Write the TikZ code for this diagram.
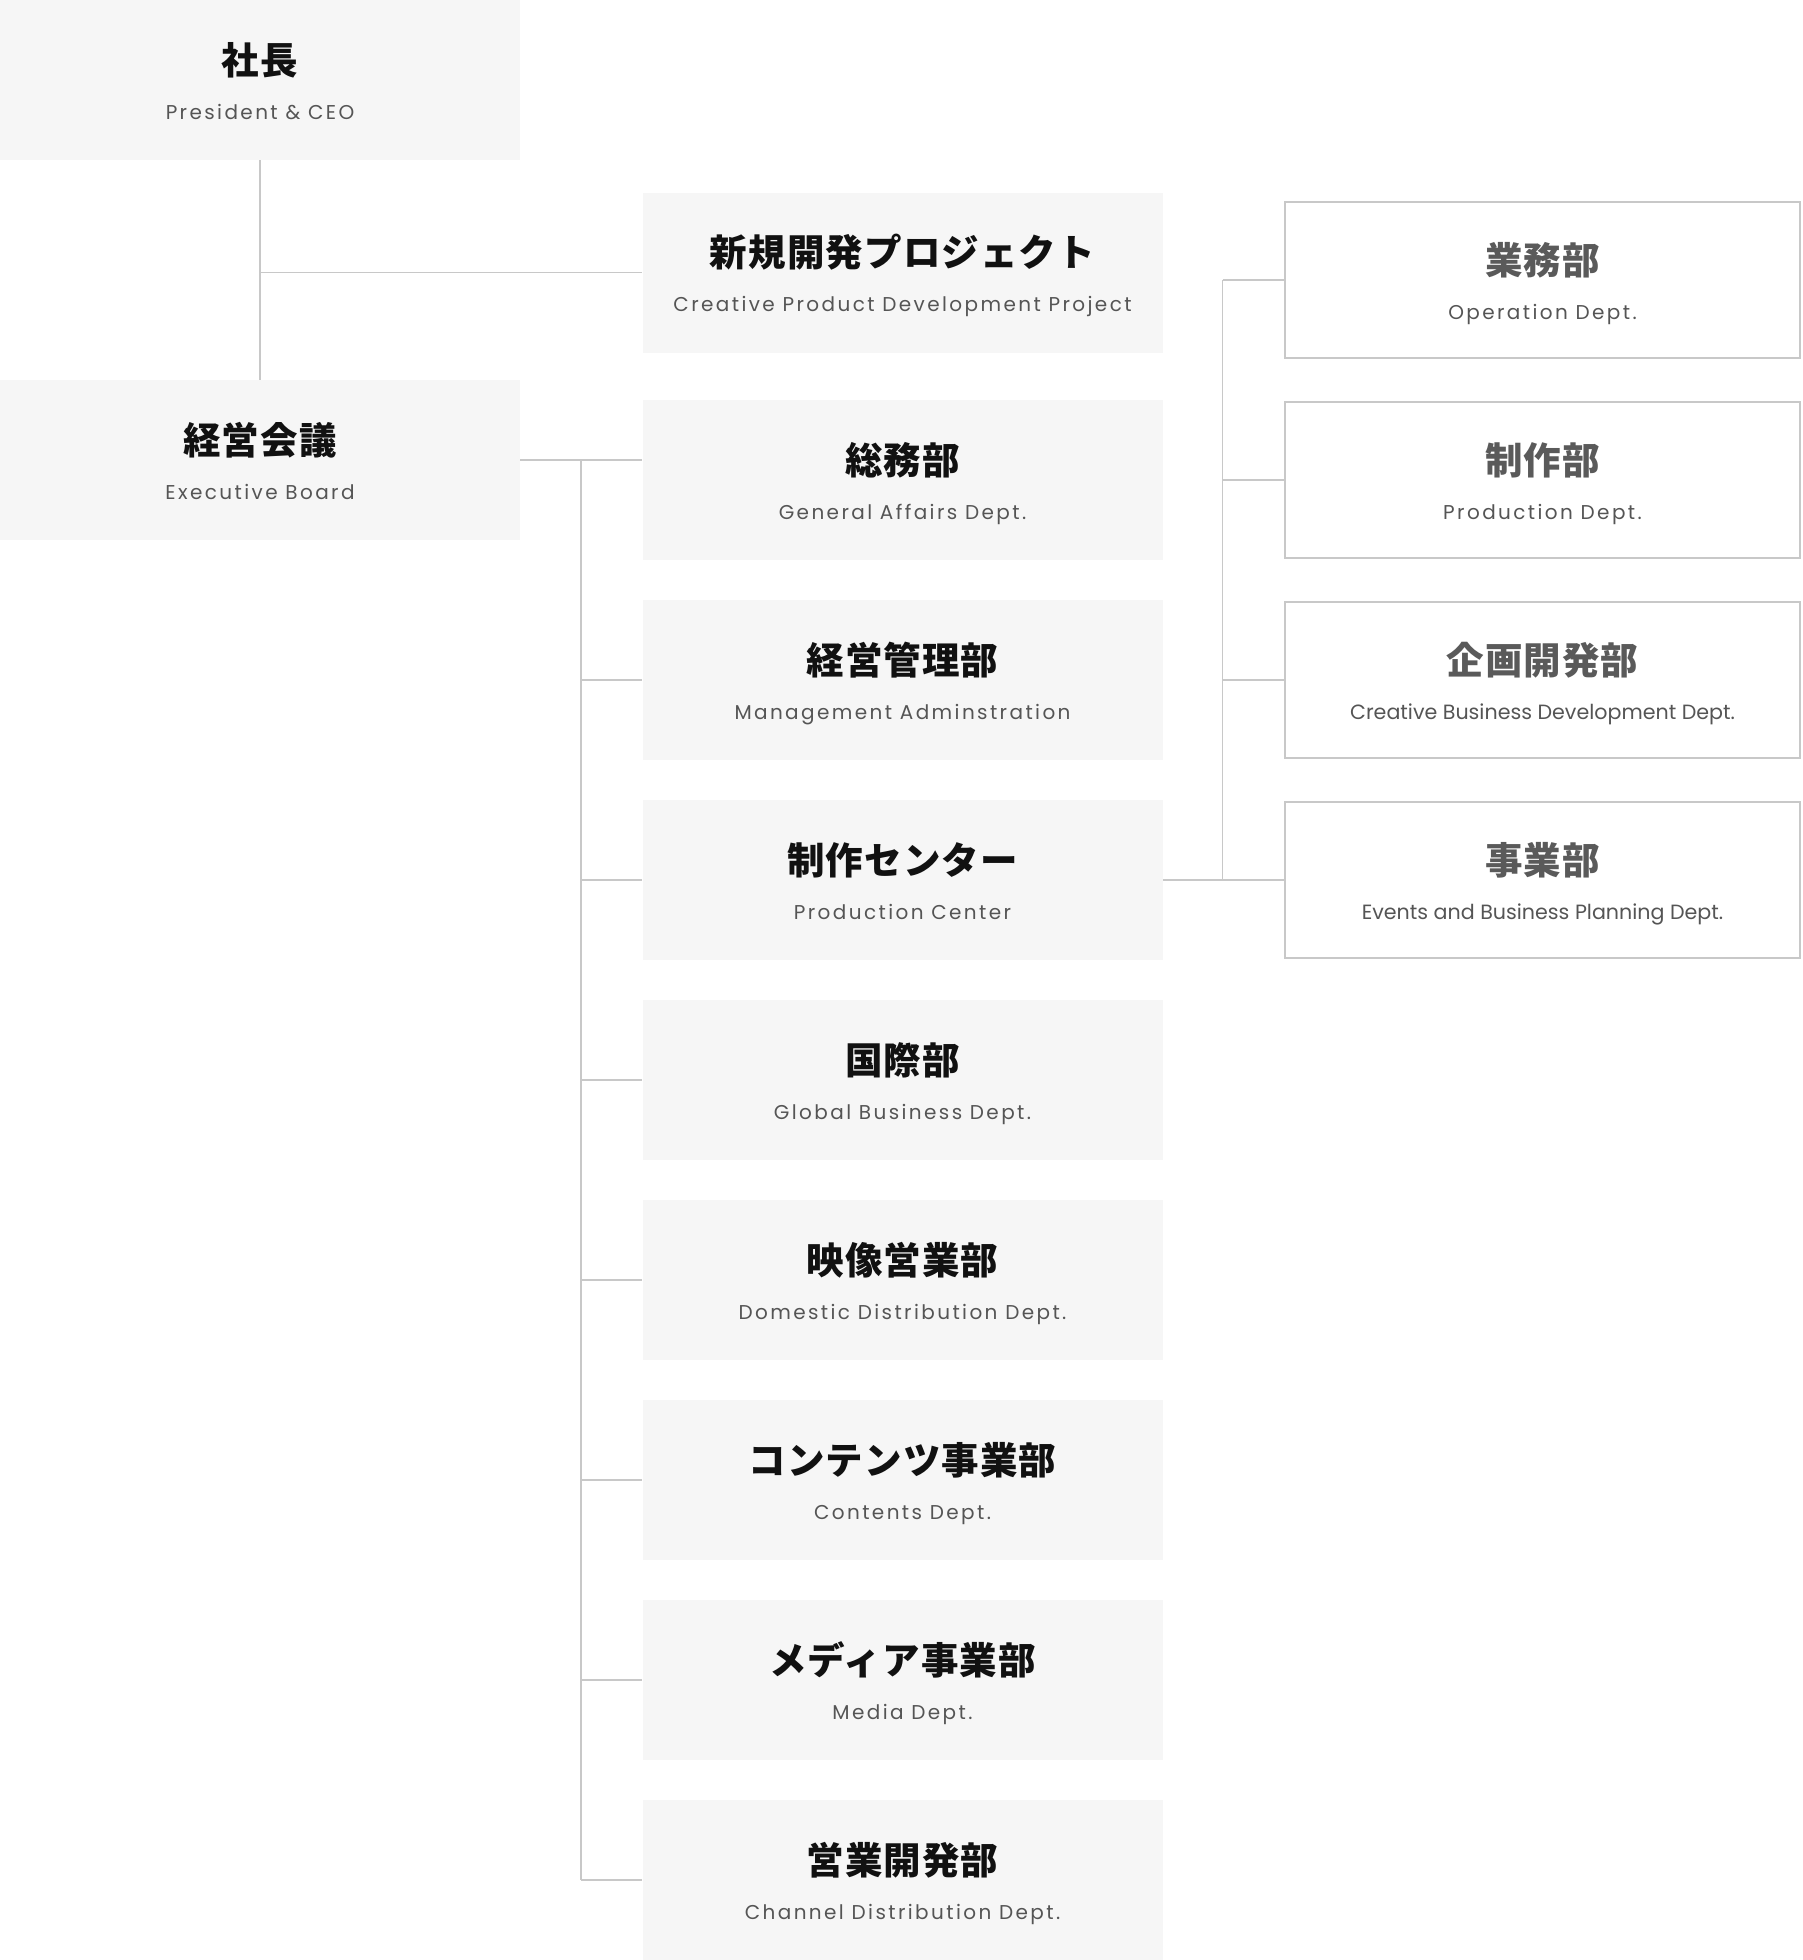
\documentclass[tikz,border=0pt]{standalone}
\usepackage{fontspec}
\setmainfont{Poppins}
\newfontfamily\jpfont{Noto Sans CJK JP}[LetterSpace=3]
\newfontfamily\enfont{Poppins}[LetterSpace=12]
\usepackage{tikz}
\usetikzlibrary{positioning}

\definecolor{boxgray}{HTML}{F6F6F6}
\definecolor{linegray}{HTML}{C8C8C8}
\definecolor{titleblack}{HTML}{111111}
\definecolor{titlegray}{HTML}{5A5A5A}
\definecolor{subgray}{HTML}{555555}

\begin{document}
\begin{tikzpicture}[x=1pt,y=1pt,
  unit/.style={rectangle,fill=boxgray,minimum width=416pt,minimum height=128pt,inner sep=0pt},
  dept/.style={rectangle,fill=white,draw=linegray,line width=1.5pt,minimum width=412pt,minimum height=125pt,inner sep=0pt},
  jptitle/.style={anchor=base,inner sep=0pt,text=titleblack,font=\jpfont\bfseries\fontsize{30}{36}\selectfont},
  entitle/.style={anchor=base,inner sep=0pt,text=subgray,font=\enfont\fontsize{16}{20}\selectfont},
  plaintitle/.style={anchor=base,inner sep=0pt,text=subgray,font=\fontsize{16.5}{20}\selectfont},
  link/.style={draw=linegray,line width=1.5pt}]
\useasboundingbox (0,0) rectangle (1442,-1568);

% top
\node[unit] (ceo) at (208,-64) {};
\node[jptitle] at ([yshift=4.6pt]ceo.center) {社長};
\node[entitle] at ([yshift=-31.5pt]ceo.center) {President \& CEO};
\node[unit] (board) at (208,-368) {};
\node[jptitle] at ([yshift=4.6pt]board.center) {経営会議};
\node[entitle] at ([yshift=-31.5pt]board.center) {Executive Board};
\node[unit] (proj) at (722,-218) {};
\node[jptitle] at ([yshift=4.6pt]proj.center) {新規開発プロジェクト};
\node[entitle] at ([yshift=-31.5pt]proj.center) {Creative Product Development Project};

% middle column
\foreach \n/\y/\jp/\en in %
{gen/384/総務部/General Affairs Dept.,
 mgmt/544/経営管理部/Management Adminstration,
 prodc/704/制作センター/Production Center,
 intl/864/国際部/Global Business Dept.,
 dom/1024/映像営業部/Domestic Distribution Dept.,
 cont/1184/コンテンツ事業部/Contents Dept.,
 media/1344/メディア事業部/Media Dept.,
 sales/1504/営業開発部/Channel Distribution Dept.} {
   \node[unit] (\n) at (722,-\y) {};
   \node[jptitle] at ([yshift=4.6pt]\n.center) {\jp};
   \node[entitle] at ([yshift=-31.5pt]\n.center) {\en};
}

% right column
\foreach \n/\y/\jp/\en/\st in %
{ops/224/業務部/Operation Dept./entitle,
 prod/384/制作部/Production Dept./entitle,
 cbd/544/企画開発部/Creative Business Development Dept./plaintitle,
 events/704/事業部/Events and Business Planning Dept./plaintitle} {
   \node[dept] (\n) at (1234,-\y) {};
   \node[jptitle,text=titlegray] at ([yshift=4.6pt]\n.center) {\jp};
   \node[\st] at ([yshift=-31.5pt]\n.center) {\en};
}

% connectors
\coordinate (trunk) at (465,0);
\coordinate (rtrunk) at (978,0);
\draw[link] (ceo.south) -- (board.north);
\draw[link] (ceo.south |- proj.west) -- (proj.west);
\draw[link] (board.east) -- (board.east -| gen.west);
\draw[link] (trunk |- board.east) -- (trunk |- sales.west);
\foreach \n in {mgmt,prodc,intl,dom,cont,media,sales} {
   \draw[link] (trunk |- \n.west) -- (\n.west);
}
\draw[link] (prodc.east) -- (events.west);
\draw[link] (rtrunk |- ops.west) -- (rtrunk |- events.west);
\foreach \n in {ops,prod,cbd} {
   \draw[link] (rtrunk |- \n.west) -- (\n.west);
}
\end{tikzpicture}
\end{document}
